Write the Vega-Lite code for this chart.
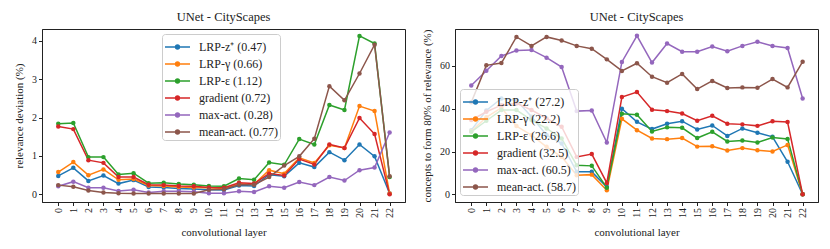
{
  "$schema": "https://vega.github.io/schema/vega-lite/v6.json",
  "padding": {"left": 13, "top": 10, "right": 3, "bottom": 1},
  "config": {
    "font": "Liberation Serif",
    "view": {"stroke": "#222", "strokeWidth": 1},
    "axis": {"grid": false, "domainColor": "#222", "tickColor": "#222", "labelColor": "#222", "titleColor": "#222", "labelFont": "Liberation Serif", "titleFont": "Liberation Serif", "labelFontSize": 10, "titleFontSize": 11, "titleFontWeight": "normal", "tickSize": 3.5},
    "title": {"font": "Liberation Serif", "fontSize": 12.5, "fontWeight": "normal", "color": "#222", "offset": 6},
    "legend": {"labelFont": "Liberation Serif", "labelFontSize": 12, "labelColor": "#222", "fillColor": "rgba(255,255,255,0.8)", "strokeColor": "#cccccc", "cornerRadius": 3, "padding": 2, "symbolType": "M-1,0L1.5,0M0.175,0A0.075,0.075,0,1,1,0.325,0A0.075,0.075,0,1,1,0.175,0M0.06,0A0.19,0.19,0,1,1,0.44,0A0.19,0.19,0,1,1,0.06,0", "symbolSize": 400, "symbolStrokeWidth": 1.5, "rowPadding": -5, "labelOffset": 13, "title": null}
  },
  "datasets": {
    "left": [
      {"m":"LRP-z⁺ (0.47)","l":0,"v":0.48},{"m":"LRP-z⁺ (0.47)","l":1,"v":0.69},{"m":"LRP-z⁺ (0.47)","l":2,"v":0.35},{"m":"LRP-z⁺ (0.47)","l":3,"v":0.49},{"m":"LRP-z⁺ (0.47)","l":4,"v":0.28},{"m":"LRP-z⁺ (0.47)","l":5,"v":0.37},{"m":"LRP-z⁺ (0.47)","l":6,"v":0.19},{"m":"LRP-z⁺ (0.47)","l":7,"v":0.18},{"m":"LRP-z⁺ (0.47)","l":8,"v":0.15},{"m":"LRP-z⁺ (0.47)","l":9,"v":0.14},{"m":"LRP-z⁺ (0.47)","l":10,"v":0.12},{"m":"LRP-z⁺ (0.47)","l":11,"v":0.11},{"m":"LRP-z⁺ (0.47)","l":12,"v":0.23},{"m":"LRP-z⁺ (0.47)","l":13,"v":0.22},{"m":"LRP-z⁺ (0.47)","l":14,"v":0.51},{"m":"LRP-z⁺ (0.47)","l":15,"v":0.47},{"m":"LRP-z⁺ (0.47)","l":16,"v":0.82},{"m":"LRP-z⁺ (0.47)","l":17,"v":0.71},{"m":"LRP-z⁺ (0.47)","l":18,"v":1.10},{"m":"LRP-z⁺ (0.47)","l":19,"v":0.89},{"m":"LRP-z⁺ (0.47)","l":20,"v":1.30},{"m":"LRP-z⁺ (0.47)","l":21,"v":0.99},{"m":"LRP-z⁺ (0.47)","l":22,"v":0.02},
      {"m":"LRP-γ (0.66)","l":0,"v":0.58},{"m":"LRP-γ (0.66)","l":1,"v":0.84},{"m":"LRP-γ (0.66)","l":2,"v":0.50},{"m":"LRP-γ (0.66)","l":3,"v":0.65},{"m":"LRP-γ (0.66)","l":4,"v":0.38},{"m":"LRP-γ (0.66)","l":5,"v":0.40},{"m":"LRP-γ (0.66)","l":6,"v":0.23},{"m":"LRP-γ (0.66)","l":7,"v":0.22},{"m":"LRP-γ (0.66)","l":8,"v":0.19},{"m":"LRP-γ (0.66)","l":9,"v":0.18},{"m":"LRP-γ (0.66)","l":10,"v":0.17},{"m":"LRP-γ (0.66)","l":11,"v":0.15},{"m":"LRP-γ (0.66)","l":12,"v":0.27},{"m":"LRP-γ (0.66)","l":13,"v":0.26},{"m":"LRP-γ (0.66)","l":14,"v":0.63},{"m":"LRP-γ (0.66)","l":15,"v":0.54},{"m":"LRP-γ (0.66)","l":16,"v":0.95},{"m":"LRP-γ (0.66)","l":17,"v":0.82},{"m":"LRP-γ (0.66)","l":18,"v":1.28},{"m":"LRP-γ (0.66)","l":19,"v":1.21},{"m":"LRP-γ (0.66)","l":20,"v":2.30},{"m":"LRP-γ (0.66)","l":21,"v":2.17},{"m":"LRP-γ (0.66)","l":22,"v":0.02},
      {"m":"LRP-ε (1.12)","l":0,"v":1.84},{"m":"LRP-ε (1.12)","l":1,"v":1.86},{"m":"LRP-ε (1.12)","l":2,"v":0.97},{"m":"LRP-ε (1.12)","l":3,"v":0.97},{"m":"LRP-ε (1.12)","l":4,"v":0.52},{"m":"LRP-ε (1.12)","l":5,"v":0.55},{"m":"LRP-ε (1.12)","l":6,"v":0.29},{"m":"LRP-ε (1.12)","l":7,"v":0.30},{"m":"LRP-ε (1.12)","l":8,"v":0.27},{"m":"LRP-ε (1.12)","l":9,"v":0.25},{"m":"LRP-ε (1.12)","l":10,"v":0.22},{"m":"LRP-ε (1.12)","l":11,"v":0.21},{"m":"LRP-ε (1.12)","l":12,"v":0.41},{"m":"LRP-ε (1.12)","l":13,"v":0.38},{"m":"LRP-ε (1.12)","l":14,"v":0.83},{"m":"LRP-ε (1.12)","l":15,"v":0.77},{"m":"LRP-ε (1.12)","l":16,"v":1.44},{"m":"LRP-ε (1.12)","l":17,"v":1.30},{"m":"LRP-ε (1.12)","l":18,"v":2.33},{"m":"LRP-ε (1.12)","l":19,"v":2.20},{"m":"LRP-ε (1.12)","l":20,"v":4.13},{"m":"LRP-ε (1.12)","l":21,"v":3.93},{"m":"LRP-ε (1.12)","l":22,"v":0.45},
      {"m":"gradient (0.72)","l":0,"v":1.77},{"m":"gradient (0.72)","l":1,"v":1.70},{"m":"gradient (0.72)","l":2,"v":0.89},{"m":"gradient (0.72)","l":3,"v":0.82},{"m":"gradient (0.72)","l":4,"v":0.45},{"m":"gradient (0.72)","l":5,"v":0.45},{"m":"gradient (0.72)","l":6,"v":0.25},{"m":"gradient (0.72)","l":7,"v":0.24},{"m":"gradient (0.72)","l":8,"v":0.22},{"m":"gradient (0.72)","l":9,"v":0.21},{"m":"gradient (0.72)","l":10,"v":0.18},{"m":"gradient (0.72)","l":11,"v":0.17},{"m":"gradient (0.72)","l":12,"v":0.30},{"m":"gradient (0.72)","l":13,"v":0.28},{"m":"gradient (0.72)","l":14,"v":0.54},{"m":"gradient (0.72)","l":15,"v":0.49},{"m":"gradient (0.72)","l":16,"v":0.92},{"m":"gradient (0.72)","l":17,"v":0.78},{"m":"gradient (0.72)","l":18,"v":1.30},{"m":"gradient (0.72)","l":19,"v":1.21},{"m":"gradient (0.72)","l":20,"v":1.99},{"m":"gradient (0.72)","l":21,"v":1.57},{"m":"gradient (0.72)","l":22,"v":0.0},
      {"m":"max-act. (0.28)","l":0,"v":0.21},{"m":"max-act. (0.28)","l":1,"v":0.33},{"m":"max-act. (0.28)","l":2,"v":0.17},{"m":"max-act. (0.28)","l":3,"v":0.17},{"m":"max-act. (0.28)","l":4,"v":0.09},{"m":"max-act. (0.28)","l":5,"v":0.12},{"m":"max-act. (0.28)","l":6,"v":0.05},{"m":"max-act. (0.28)","l":7,"v":0.08},{"m":"max-act. (0.28)","l":8,"v":0.08},{"m":"max-act. (0.28)","l":9,"v":0.07},{"m":"max-act. (0.28)","l":10,"v":0.03},{"m":"max-act. (0.28)","l":11,"v":0.03},{"m":"max-act. (0.28)","l":12,"v":0.08},{"m":"max-act. (0.28)","l":13,"v":0.06},{"m":"max-act. (0.28)","l":14,"v":0.21},{"m":"max-act. (0.28)","l":15,"v":0.17},{"m":"max-act. (0.28)","l":16,"v":0.32},{"m":"max-act. (0.28)","l":17,"v":0.24},{"m":"max-act. (0.28)","l":18,"v":0.45},{"m":"max-act. (0.28)","l":19,"v":0.36},{"m":"max-act. (0.28)","l":20,"v":0.63},{"m":"max-act. (0.28)","l":21,"v":0.70},{"m":"max-act. (0.28)","l":22,"v":1.61},
      {"m":"mean-act. (0.77)","l":0,"v":0.24},{"m":"mean-act. (0.77)","l":1,"v":0.20},{"m":"mean-act. (0.77)","l":2,"v":0.10},{"m":"mean-act. (0.77)","l":3,"v":0.05},{"m":"mean-act. (0.77)","l":4,"v":0.03},{"m":"mean-act. (0.77)","l":5,"v":0.02},{"m":"mean-act. (0.77)","l":6,"v":0.02},{"m":"mean-act. (0.77)","l":7,"v":0.02},{"m":"mean-act. (0.77)","l":8,"v":0.02},{"m":"mean-act. (0.77)","l":9,"v":0.02},{"m":"mean-act. (0.77)","l":10,"v":0.12},{"m":"mean-act. (0.77)","l":11,"v":0.13},{"m":"mean-act. (0.77)","l":12,"v":0.25},{"m":"mean-act. (0.77)","l":13,"v":0.25},{"m":"mean-act. (0.77)","l":14,"v":0.45},{"m":"mean-act. (0.77)","l":15,"v":0.75},{"m":"mean-act. (0.77)","l":16,"v":0.99},{"m":"mean-act. (0.77)","l":17,"v":1.45},{"m":"mean-act. (0.77)","l":18,"v":2.82},{"m":"mean-act. (0.77)","l":19,"v":2.45},{"m":"mean-act. (0.77)","l":20,"v":3.15},{"m":"mean-act. (0.77)","l":21,"v":3.90},{"m":"mean-act. (0.77)","l":22,"v":0.47}
    ],
    "right": [
      {"m":"LRP-z⁺ (27.2)","l":0,"v":30.0},{"m":"LRP-z⁺ (27.2)","l":1,"v":39.2},{"m":"LRP-z⁺ (27.2)","l":2,"v":44.8},{"m":"LRP-z⁺ (27.2)","l":3,"v":44.0},{"m":"LRP-z⁺ (27.2)","l":4,"v":36.3},{"m":"LRP-z⁺ (27.2)","l":5,"v":27.7},{"m":"LRP-z⁺ (27.2)","l":6,"v":23.8},{"m":"LRP-z⁺ (27.2)","l":7,"v":10.5},{"m":"LRP-z⁺ (27.2)","l":8,"v":10.5},{"m":"LRP-z⁺ (27.2)","l":9,"v":3.4},{"m":"LRP-z⁺ (27.2)","l":10,"v":40.0},{"m":"LRP-z⁺ (27.2)","l":11,"v":33.9},{"m":"LRP-z⁺ (27.2)","l":12,"v":30.5},{"m":"LRP-z⁺ (27.2)","l":13,"v":33.0},{"m":"LRP-z⁺ (27.2)","l":14,"v":34.2},{"m":"LRP-z⁺ (27.2)","l":15,"v":30.3},{"m":"LRP-z⁺ (27.2)","l":16,"v":32.2},{"m":"LRP-z⁺ (27.2)","l":17,"v":27.3},{"m":"LRP-z⁺ (27.2)","l":18,"v":30.8},{"m":"LRP-z⁺ (27.2)","l":19,"v":28.8},{"m":"LRP-z⁺ (27.2)","l":20,"v":26.9},{"m":"LRP-z⁺ (27.2)","l":21,"v":15.2},{"m":"LRP-z⁺ (27.2)","l":22,"v":0.0},
      {"m":"LRP-γ (22.2)","l":0,"v":29.5},{"m":"LRP-γ (22.2)","l":1,"v":36.0},{"m":"LRP-γ (22.2)","l":2,"v":40.5},{"m":"LRP-γ (22.2)","l":3,"v":31.9},{"m":"LRP-γ (22.2)","l":4,"v":27.7},{"m":"LRP-γ (22.2)","l":5,"v":22.2},{"m":"LRP-γ (22.2)","l":6,"v":17.5},{"m":"LRP-γ (22.2)","l":7,"v":8.9},{"m":"LRP-γ (22.2)","l":8,"v":9.2},{"m":"LRP-γ (22.2)","l":9,"v":1.9},{"m":"LRP-γ (22.2)","l":10,"v":35.3},{"m":"LRP-γ (22.2)","l":11,"v":30.0},{"m":"LRP-γ (22.2)","l":12,"v":26.1},{"m":"LRP-γ (22.2)","l":13,"v":25.8},{"m":"LRP-γ (22.2)","l":14,"v":26.3},{"m":"LRP-γ (22.2)","l":15,"v":22.3},{"m":"LRP-γ (22.2)","l":16,"v":22.5},{"m":"LRP-γ (22.2)","l":17,"v":20.5},{"m":"LRP-γ (22.2)","l":18,"v":21.6},{"m":"LRP-γ (22.2)","l":19,"v":20.6},{"m":"LRP-γ (22.2)","l":20,"v":20.0},{"m":"LRP-γ (22.2)","l":21,"v":23.1},{"m":"LRP-γ (22.2)","l":22,"v":0.0},
      {"m":"LRP-ε (26.6)","l":0,"v":29.2},{"m":"LRP-ε (26.6)","l":1,"v":34.4},{"m":"LRP-ε (26.6)","l":2,"v":39.4},{"m":"LRP-ε (26.6)","l":3,"v":39.4},{"m":"LRP-ε (26.6)","l":4,"v":34.7},{"m":"LRP-ε (26.6)","l":5,"v":30.8},{"m":"LRP-ε (26.6)","l":6,"v":26.1},{"m":"LRP-ε (26.6)","l":7,"v":13.6},{"m":"LRP-ε (26.6)","l":8,"v":13.3},{"m":"LRP-ε (26.6)","l":9,"v":3.1},{"m":"LRP-ε (26.6)","l":10,"v":37.7},{"m":"LRP-ε (26.6)","l":11,"v":37.2},{"m":"LRP-ε (26.6)","l":12,"v":29.4},{"m":"LRP-ε (26.6)","l":13,"v":31.3},{"m":"LRP-ε (26.6)","l":14,"v":31.1},{"m":"LRP-ε (26.6)","l":15,"v":26.3},{"m":"LRP-ε (26.6)","l":16,"v":29.2},{"m":"LRP-ε (26.6)","l":17,"v":24.7},{"m":"LRP-ε (26.6)","l":18,"v":25.2},{"m":"LRP-ε (26.6)","l":19,"v":24.2},{"m":"LRP-ε (26.6)","l":20,"v":26.6},{"m":"LRP-ε (26.6)","l":21,"v":25.9},{"m":"LRP-ε (26.6)","l":22,"v":0.0},
      {"m":"gradient (32.5)","l":0,"v":34.7},{"m":"gradient (32.5)","l":1,"v":38.6},{"m":"gradient (32.5)","l":2,"v":41.7},{"m":"gradient (32.5)","l":3,"v":42.5},{"m":"gradient (32.5)","l":4,"v":39.4},{"m":"gradient (32.5)","l":5,"v":35.5},{"m":"gradient (32.5)","l":6,"v":31.6},{"m":"gradient (32.5)","l":7,"v":17.5},{"m":"gradient (32.5)","l":8,"v":18.8},{"m":"gradient (32.5)","l":9,"v":5.3},{"m":"gradient (32.5)","l":10,"v":45.5},{"m":"gradient (32.5)","l":11,"v":47.8},{"m":"gradient (32.5)","l":12,"v":39.5},{"m":"gradient (32.5)","l":13,"v":38.9},{"m":"gradient (32.5)","l":14,"v":37.8},{"m":"gradient (32.5)","l":15,"v":34.4},{"m":"gradient (32.5)","l":16,"v":36.7},{"m":"gradient (32.5)","l":17,"v":33.0},{"m":"gradient (32.5)","l":18,"v":32.7},{"m":"gradient (32.5)","l":19,"v":32.0},{"m":"gradient (32.5)","l":20,"v":34.2},{"m":"gradient (32.5)","l":21,"v":33.8},{"m":"gradient (32.5)","l":22,"v":0.0},
      {"m":"max-act. (60.5)","l":0,"v":50.9},{"m":"max-act. (60.5)","l":1,"v":57.8},{"m":"max-act. (60.5)","l":2,"v":64.7},{"m":"max-act. (60.5)","l":3,"v":67.2},{"m":"max-act. (60.5)","l":4,"v":67.5},{"m":"max-act. (60.5)","l":5,"v":63.9},{"m":"max-act. (60.5)","l":6,"v":59.5},{"m":"max-act. (60.5)","l":7,"v":38.9},{"m":"max-act. (60.5)","l":8,"v":39.2},{"m":"max-act. (60.5)","l":9,"v":24.2},{"m":"max-act. (60.5)","l":10,"v":61.9},{"m":"max-act. (60.5)","l":11,"v":74.1},{"m":"max-act. (60.5)","l":12,"v":61.6},{"m":"max-act. (60.5)","l":13,"v":70.5},{"m":"max-act. (60.5)","l":14,"v":66.7},{"m":"max-act. (60.5)","l":15,"v":66.7},{"m":"max-act. (60.5)","l":16,"v":69.1},{"m":"max-act. (60.5)","l":17,"v":66.9},{"m":"max-act. (60.5)","l":18,"v":69.4},{"m":"max-act. (60.5)","l":19,"v":71.3},{"m":"max-act. (60.5)","l":20,"v":69.4},{"m":"max-act. (60.5)","l":21,"v":68.4},{"m":"max-act. (60.5)","l":22,"v":44.8},
      {"m":"mean-act. (58.7)","l":0,"v":43.0},{"m":"mean-act. (58.7)","l":1,"v":60.3},{"m":"mean-act. (58.7)","l":2,"v":61.4},{"m":"mean-act. (58.7)","l":3,"v":73.6},{"m":"mean-act. (58.7)","l":4,"v":69.4},{"m":"mean-act. (58.7)","l":5,"v":73.6},{"m":"mean-act. (58.7)","l":6,"v":71.9},{"m":"mean-act. (58.7)","l":7,"v":69.4},{"m":"mean-act. (58.7)","l":8,"v":68.1},{"m":"mean-act. (58.7)","l":9,"v":63.1},{"m":"mean-act. (58.7)","l":10,"v":57.7},{"m":"mean-act. (58.7)","l":11,"v":61.3},{"m":"mean-act. (58.7)","l":12,"v":55.0},{"m":"mean-act. (58.7)","l":13,"v":52.2},{"m":"mean-act. (58.7)","l":14,"v":56.3},{"m":"mean-act. (58.7)","l":15,"v":49.2},{"m":"mean-act. (58.7)","l":16,"v":53.0},{"m":"mean-act. (58.7)","l":17,"v":49.7},{"m":"mean-act. (58.7)","l":18,"v":50.0},{"m":"mean-act. (58.7)","l":19,"v":49.8},{"m":"mean-act. (58.7)","l":20,"v":53.9},{"m":"mean-act. (58.7)","l":21,"v":50.0},{"m":"mean-act. (58.7)","l":22,"v":62.0}
    ]
  },
  "hconcat": [
    {
      "width": 363,
      "height": 173,
      "title": "UNet - CityScapes",
      "data": {"name": "left"},
      "mark": {"type": "line", "strokeWidth": 1.5, "point": {"filled": true, "size": 20}},
      "encoding": {
        "x": {"field": "l", "type": "quantitative", "title": "convolutional layer", "scale": {"domain": [-1.08, 23.02], "nice": false, "zero": false}, "axis": {"values": [0,1,2,3,4,5,6,7,8,9,10,11,12,13,14,15,16,17,18,19,20,21,22], "labelAngle": -90, "labelAlign": "right", "labelBaseline": "middle", "labelFontSize": 10, "titlePadding": 9}},
        "y": {"field": "v", "type": "quantitative", "title": "relevance deviation (%)", "scale": {"domain": [-0.2, 4.31], "nice": false, "zero": false}, "axis": {"values": [0, 1, 2, 3, 4], "titlePadding": 7}},
        "color": {"field": "m", "type": "nominal", "scale": {"domain": ["LRP-z⁺ (0.47)", "LRP-γ (0.66)", "LRP-ε (1.12)", "gradient (0.72)", "max-act. (0.28)", "mean-act. (0.77)"], "range": ["#1f77b4", "#ff7f0e", "#2ca02c", "#d62728", "#9467bd", "#8c564b"]}, "legend": {"orient": "none", "legendX": 120, "legendY": 5, "labelFont": "Liberation Serif"}}
      }
    },
    {
      "width": 363,
      "height": 173,
      "title": "UNet - CityScapes",
      "data": {"name": "right"},
      "mark": {"type": "line", "strokeWidth": 1.5, "point": {"filled": true, "size": 20}},
      "encoding": {
        "x": {"field": "l", "type": "quantitative", "title": "convolutional layer", "scale": {"domain": [-1.08, 23.02], "nice": false, "zero": false}, "axis": {"values": [0,1,2,3,4,5,6,7,8,9,10,11,12,13,14,15,16,17,18,19,20,21,22], "labelAngle": -90, "labelAlign": "right", "labelBaseline": "middle", "labelFontSize": 10, "titlePadding": 9}},
        "y": {"field": "v", "type": "quantitative", "title": "concepts to form 80% of relevance (%)", "scale": {"domain": [-3.6, 77.3], "nice": false, "zero": false}, "axis": {"values": [0, 20, 40, 60], "titlePadding": 7}},
        "color": {"field": "m", "type": "nominal", "scale": {"domain": ["LRP-z⁺ (27.2)", "LRP-γ (22.2)", "LRP-ε (26.6)", "gradient (32.5)", "max-act. (60.5)", "mean-act. (58.7)"], "range": ["#1f77b4", "#ff7f0e", "#2ca02c", "#d62728", "#9467bd", "#8c564b"]}, "legend": {"orient": "none", "legendX": 5, "legendY": 60, "labelFont": "Liberation Serif"}}
      }
    }
  ],
  "spacing": 15,
  "resolve": {"scale": {"color": "independent", "x": "independent", "y": "independent"}, "legend": {"color": "independent"}}
}
